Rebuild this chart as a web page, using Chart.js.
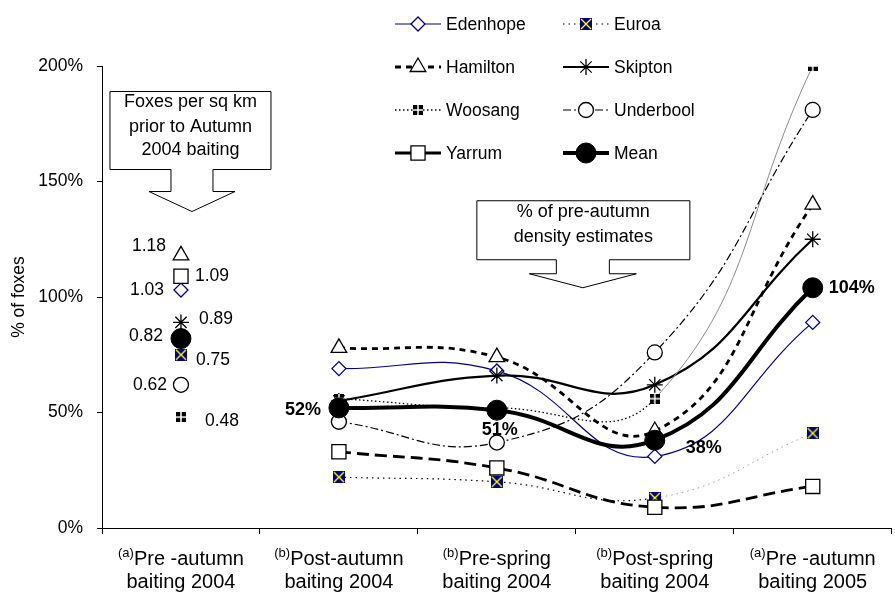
<!DOCTYPE html>
<html>
<head>
<meta charset="utf-8">
<title>Fox density after baiting</title>
<script src="https://cdn.jsdelivr.net/npm/chart.js@4.4.1/dist/chart.umd.min.js"></script>
<style>
  html, body { margin: 0; padding: 0; background: #fff; overflow: hidden; }
  #wrap { position: relative; width: 903px; height: 594px; }
</style>
</head>
<body>
<div id="wrap"><canvas id="foxChart"></canvas></div>
<script>
// sites, in legend order
var sites = ['Edenhope', 'Euroa', 'Hamilton', 'Skipton', 'Woosang', 'Underbool', 'Yarrum', 'Mean'];

// sampling periods (note letter + two label lines)
var periodNotes = ['a', 'b', 'b', 'b', 'a'];
var periodLine1 = ['Pre -autumn', 'Post-autumn', 'Pre-spring', 'Post-spring', 'Pre -autumn'];
var periodLine2 = ['baiting 2004', 'baiting 2004', 'baiting 2004', 'baiting 2004', 'baiting 2005'];
var periods = periodLine1.map(function (t, i) { return t + ' ' + periodLine2[i]; });

// foxes per sq km prior to autumn 2004 baiting
var density2004 = [1.03, 0.75, 1.18, 0.89, 0.48, 0.62, 1.09, 0.82];

// % of pre-autumn density estimate at each later period
var edenhope  = [null, 69, 68, 31, 89];
var euroa     = [null, 22, 20, 13, 41];
var hamilton  = [null, 78, 74, 42, 140];
var skipton   = [null, 55, 66, 62, 125];
var woosang   = [null, 56, 52, 56, 200];
var underbool = [null, 46, 37, 76, 181];
var yarrum    = [null, 33, 26, 9, 18];
var mean      = [null, 52, 51, 38, 104];
var seriesValues = [edenhope, euroa, hamilton, skipton, woosang, underbool, yarrum, mean];

var FONT = '"Liberation Sans", Arial, sans-serif';

// small bitmap markers for the two filled-square styles
function makeMark(size, paint) {
  var c = document.createElement('canvas');
  c.width = size; c.height = size;
  paint(c.getContext('2d'), size);
  return c;
}
var euroaMark = makeMark(12, function (g, s) {
  g.fillStyle = '#000080';
  g.fillRect(0, 0, s, s);
  g.strokeStyle = '#ffff00';
  g.lineWidth = 1.4;
  g.beginPath();
  g.moveTo(1, 1); g.lineTo(s - 1, s - 1);
  g.moveTo(s - 1, 1); g.lineTo(1, s - 1);
  g.stroke();
});
var woosangMark = makeMark(10, function (g, s) {
  g.fillStyle = '#000';
  g.fillRect(0, 0, s, s);
  g.fillStyle = '#fff';
  g.fillRect(s / 2 - 0.75, 0, 1.5, s);
  g.fillRect(0, s / 2 - 0.75, s, 1.5);
});

var siteStyles = [
  { color: '#000080', width: 1.2, dash: [], point: 'rectRot', radius: 7, fill: '#fff', pointBorder: '#000080', pointBorderWidth: 1.3 },
  { color: '#000', width: 1.2, dash: [1.5, 4], point: euroaMark, radius: 6, fill: '#000080', pointBorder: '#000080', pointBorderWidth: 0,
    lastColor: '#9a9a9a' },
  { color: '#000', width: 2.8, dash: [6, 5], point: 'triangle', radius: 9, fill: '#fff', pointBorder: '#000', pointBorderWidth: 1.3 },
  { color: '#000', width: 2.2, dash: [], point: 'star', radius: 8, fill: '#fff', pointBorder: '#000', pointBorderWidth: 1.3 },
  { color: '#000', width: 1.3, dash: [1.5, 2.5], point: woosangMark, radius: 5, fill: '#000', pointBorder: '#000', pointBorderWidth: 0,
    lastColor: '#8c8c8c', lastDash: [] },
  { color: '#000', width: 1.2, dash: [8, 3, 2, 3], point: 'circle', radius: 7.5, fill: '#fff', pointBorder: '#000', pointBorderWidth: 1.3 },
  { color: '#000', width: 2.8, dash: [12, 6], legendDash: [], point: 'rect', radius: 10, fill: '#fff', pointBorder: '#000', pointBorderWidth: 1.3 },
  { color: '#000', width: 4, dash: [], point: 'circle', radius: 10, fill: '#000', pointBorder: '#000', pointBorderWidth: 1 }
];

// where the density numbers sit beside their markers
var densityLabelPos = [
  { dx: -17, dy: 0, align: 'right' },
  { dx: 15, dy: 5, align: 'left' },
  { dx: -15, dy: -9, align: 'right' },
  { dx: 18, dy: -3, align: 'left' },
  { dx: 24, dy: 4, align: 'left' },
  { dx: -14, dy: 0, align: 'right' },
  { dx: 14, dy: 0, align: 'left' },
  { dx: -18, dy: -2, align: 'right' }
];
// where the mean % labels sit
var meanLabelPos = [null,
  { dx: -18, dy: 2, align: 'right' },
  { dx: 3, dy: 20, align: 'center' },
  { dx: 31, dy: 8, align: 'left' },
  { dx: 16, dy: 0, align: 'left' }
];

var lineSets = seriesValues.map(function (vals, i) {
  var st = siteStyles[i];
  var ds = {
    label: sites[i],
    data: vals,
    order: sites.length - i,
    borderColor: st.color,
    borderWidth: st.width,
    borderDash: st.dash,
    pointStyle: st.point,
    pointRadius: st.radius,
    pointBackgroundColor: st.fill,
    pointBorderColor: st.pointBorder,
    pointBorderWidth: st.pointBorderWidth,
    tension: 0.45,
    fill: false
  };
  if (st.lastColor) {
    ds.segment = {
      borderColor: function (c) { return c.p0DataIndex === 3 ? st.lastColor : undefined; },
      borderDash: function (c) { return c.p0DataIndex === 3 && st.lastDash ? st.lastDash : undefined; },
      borderWidth: function (c) { return c.p0DataIndex === 3 ? 1 : undefined; }
    };
  }
  return ds;
});

var densitySet = {
  label: 'Foxes per sq km',
  data: density2004.map(function (d) { return { x: periods[0], y: d * 100 }; }),
  order: 0,
  showLine: false,
  pointStyle: siteStyles.map(function (s) { return s.point; }),
  pointRadius: siteStyles.map(function (s) { return s.radius; }),
  pointBackgroundColor: siteStyles.map(function (s) { return s.fill; }),
  pointBorderColor: siteStyles.map(function (s) { return s.pointBorder; }),
  pointBorderWidth: siteStyles.map(function (s) { return s.pointBorderWidth; })
};

function drawCallout(ctx, tipX, tipY, c, lines) {
  var boxL = tipX + c.left, boxR = tipX + c.right;
  var boxT = tipY - c.top, boxB = tipY - c.bottom, headY = tipY - c.head;
  ctx.beginPath();
  ctx.moveTo(boxL, boxT);
  ctx.lineTo(boxR, boxT);
  ctx.lineTo(boxR, boxB);
  ctx.lineTo(tipX + c.stem, boxB);
  ctx.lineTo(tipX + c.stem, headY);
  ctx.lineTo(tipX + c.wing, headY);
  ctx.lineTo(tipX, tipY);
  ctx.lineTo(tipX - c.wing, headY);
  ctx.lineTo(tipX - c.stem, headY);
  ctx.lineTo(tipX - c.stem, boxB);
  ctx.lineTo(boxL, boxB);
  ctx.closePath();
  ctx.fillStyle = '#fff';
  ctx.fill();
  ctx.strokeStyle = '#000';
  ctx.lineWidth = 1;
  ctx.stroke();
  ctx.fillStyle = '#000';
  ctx.font = '18px ' + FONT;
  ctx.textAlign = 'center';
  ctx.textBaseline = 'middle';
  var cx = (boxL + boxR) / 2;
  lines.forEach(function (t, k) { ctx.fillText(t, cx, tipY + c.textY[k]); });
}

var calloutPlugin = {
  id: 'callouts',
  beforeDatasetsDraw: function (chart) {
    var ctx = chart.ctx, xs = chart.scales.x, ys = chart.scales.y;
    ctx.save();
    drawCallout(ctx, xs.getPixelForValue(0) + 11, ys.getPixelForValue(137),
      { left: -82, right: 79, top: 120, bottom: 42, head: 20, stem: 21, wing: 43, textY: [-109, -84, -61] },
      ['Foxes per sq km', 'prior to Autumn', '2004 baiting']);
    drawCallout(ctx, xs.getPixelForValue(2) + 86, ys.getPixelForValue(104),
      { left: -106, right: 107, top: 87, bottom: 28, head: 14, stem: 26.5, wing: 53.5, textY: [-76, -51] },
      ['% of pre-autumn', 'density estimates']);
    ctx.restore();
  }
};

var labelPlugin = {
  id: 'valueLabels',
  afterDatasetsDraw: function (chart) {
    var ctx = chart.ctx;
    ctx.save();
    ctx.fillStyle = '#000';
    ctx.textBaseline = 'middle';
    // density numbers beside the first-period markers
    ctx.font = '17.5px ' + FONT;
    var dMeta = chart.getDatasetMeta(sites.length);
    density2004.forEach(function (d, i) {
      var p = dMeta.data[i], pos = densityLabelPos[i];
      ctx.textAlign = pos.align;
      ctx.fillText(d.toFixed(2), p.x + pos.dx, p.y + pos.dy);
    });
    // mean percentages
    ctx.font = 'bold 18px ' + FONT;
    var mMeta = chart.getDatasetMeta(sites.length - 1);
    mean.forEach(function (v, i) {
      if (v === null) return;
      var p = mMeta.data[i], pos = meanLabelPos[i];
      ctx.textAlign = pos.align;
      ctx.fillText(v + '%', p.x + pos.dx, p.y + pos.dy);
    });
    ctx.restore();
  }
};

var axisLabelPlugin = {
  id: 'periodLabels',
  afterDraw: function (chart) {
    var ctx = chart.ctx, xs = chart.scales.x;
    ctx.save();
    ctx.fillStyle = '#000';
    ctx.textBaseline = 'alphabetic';
    var base = xs.top + 37;
    periods.forEach(function (p, i) {
      var cx = xs.getPixelForTick(i);
      var note = '(' + periodNotes[i] + ')';
      ctx.font = '13px ' + FONT;
      var wNote = ctx.measureText(note).width;
      ctx.font = '20px ' + FONT;
      var wMain = ctx.measureText(periodLine1[i]).width;
      var x0 = cx - (wNote + wMain) / 2;
      ctx.textAlign = 'left';
      ctx.font = '13px ' + FONT;
      ctx.fillText(note, x0, base - 8);
      ctx.font = '20px ' + FONT;
      ctx.fillText(periodLine1[i], x0 + wNote, base);
      ctx.textAlign = 'center';
      ctx.fillText(periodLine2[i], cx, base + 23);
    });
    ctx.restore();
  }
};

var legendPlugin = {
  id: 'siteLegend',
  afterDraw: function (chart) {
    var ctx = chart.ctx;
    ctx.save();
    sites.forEach(function (name, i) {
      var st = siteStyles[i];
      var x0 = i % 2 === 0 ? 395 : 563;
      var y = 24 + Math.floor(i / 2) * 43;
      ctx.strokeStyle = st.color;
      ctx.lineWidth = st.width;
      ctx.setLineDash(st.legendDash || st.dash);
      ctx.beginPath();
      ctx.moveTo(x0, y);
      ctx.lineTo(x0 + 46, y);
      ctx.stroke();
      ctx.setLineDash([]);
      ctx.fillStyle = st.fill;
      ctx.strokeStyle = st.pointBorder;
      ctx.lineWidth = st.pointBorderWidth;
      if (Chart.helpers && Chart.helpers.drawPoint) {
        Chart.helpers.drawPoint(ctx, {
          pointStyle: st.point, radius: st.radius, rotation: 0, borderWidth: st.pointBorderWidth
        }, x0 + 23, y);
      }
      ctx.fillStyle = '#000';
      ctx.font = '17.5px ' + FONT;
      ctx.textAlign = 'left';
      ctx.textBaseline = 'middle';
      ctx.fillText(name, x0 + 51, y + 1);
    });
    ctx.restore();
  }
};

Chart.defaults.font.family = FONT;
Chart.defaults.color = '#000';

var ctx = document.getElementById('foxChart').getContext('2d');
var foxChart = new Chart(ctx, {
  type: 'line',
  data: {
    labels: periods,
    datasets: lineSets.concat([densitySet])
  },
  options: {
    responsive: true,
    maintainAspectRatio: false,
    animation: false,
    events: [],
    spanGaps: false,
    layout: { padding: { top: 66, right: 1, left: 0, bottom: 0 } },
    plugins: {
      legend: { display: false },
      tooltip: { enabled: false }
    },
    scales: {
      x: {
        type: 'category',
        offset: true,
        grid: { display: true, drawOnChartArea: false, offset: true, color: '#000', tickLength: 6, tickWidth: 1 },
        border: { display: true, color: '#000', width: 1 },
        ticks: { color: 'rgba(0,0,0,0)', maxRotation: 0, autoSkip: false },
        afterFit: function (s) { s.height = 66; }
      },
      y: {
        min: 0,
        max: 200,
        grid: { display: true, drawOnChartArea: false, color: '#000', tickLength: 5, tickWidth: 1 },
        border: { display: true, color: '#000', width: 1 },
        ticks: {
          stepSize: 50,
          padding: 14,
          font: { size: 17.5 },
          callback: function (v) { return v + '%'; }
        },
        title: { display: true, text: '% of foxes', font: { size: 17.5 }, padding: { top: 9, bottom: 0 } },
        afterFit: function (s) { s.width = 102; }
      }
    }
  },
  plugins: [calloutPlugin, labelPlugin, axisLabelPlugin, legendPlugin]
});
</script>
</body>
</html>
